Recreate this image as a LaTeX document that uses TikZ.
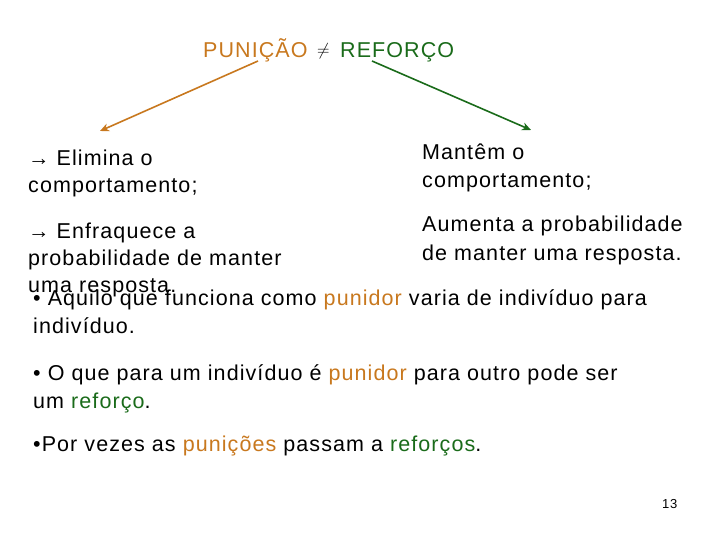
\documentclass[tikz,border=0pt]{standalone}
\usepackage{fontspec}
\setmainfont{Liberation Sans}[LetterSpace=5]
\usetikzlibrary{arrows.meta}
\definecolor{org}{HTML}{C8781E}
\definecolor{grn}{HTML}{1A6B1A}
\begin{document}
\begin{tikzpicture}[x=1pt,y=-1pt,
  txt/.style={anchor=base west,inner sep=0pt,font=\fontsize{21.5}{27}\selectfont,text=black},
  arr/.style={line width=1.6pt,-{Stealth[length=9pt,width=8pt]}}]
\useasboundingbox (0,0) rectangle (720,540);
\node[txt,text=org] (pun) at (203,58) {PUNIÇÃO};
\node[txt,font=\fontsize{18}{18}\selectfont] (neq) at (317,56) {$\neq$};
\node[txt,text=grn] (ref) at (340,58) {REFORÇO};
\coordinate (pa) at (258,61);
\coordinate (pb) at (100,131);
\coordinate (ra) at (372,61);
\coordinate (rb) at (531,130);
\draw[arr,org] (pa) -- (pb);
\draw[arr,grn] (ra) -- (rb);
\node[txt] (l1a) at (28,166) {→ Elimina o};
\node[txt] (l1b) at (28,193) {comportamento;};
\node[txt] (l2a) at (28,238) {→ Enfraquece a};
\node[txt] (l2b) at (28,265) {probabilidade de manter};
\node[txt] (l2c) at (28,292) {uma resposta.};
\node[txt] (r1a) at (422,160) {Mantêm o};
\node[txt] (r1b) at (422,188) {comportamento;};
\node[txt] (r2a) at (422,232) {Aumenta a probabilidade};
\node[txt] (r2b) at (422,260) {de manter uma resposta.};
\node[txt] (b1a) at (33,305) {• Aquilo que funciona como \textcolor{org}{punidor} varia de indivíduo para};
\node[txt] (b1b) at (33,333) {indivíduo.};
\node[txt] (b2a) at (33,380) {• O que para um indivíduo é \textcolor{org}{punidor} para outro pode ser};
\node[txt] (b2b) at (33,408) {um \textcolor{grn}{reforço}.};
\node[txt] (b3) at (33,451) {•Por vezes as \textcolor{org}{punições} passam a \textcolor{grn}{reforços}.};
\node[txt,font=\fontsize{13}{13}\selectfont] (pg) at (662,508) {13};
\end{tikzpicture}
\end{document}
